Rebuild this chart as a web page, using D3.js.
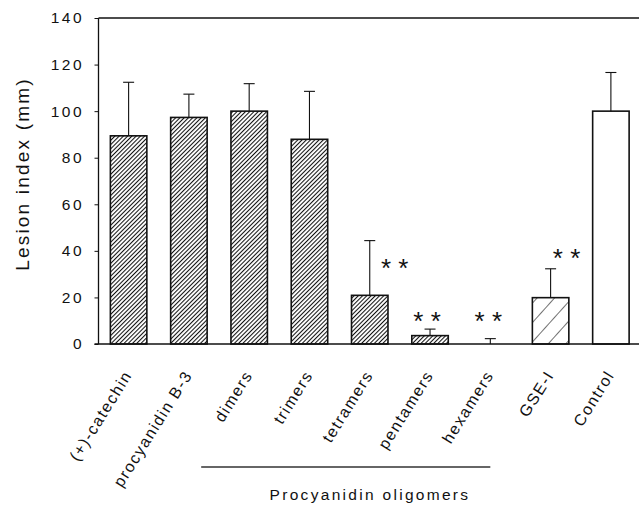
<!DOCTYPE html>
<html><head><meta charset="utf-8">
<script src="https://cdn.jsdelivr.net/npm/d3@7"></script>
<style>body{margin:0;background:#fff}svg{display:block}text{font-family:"Liberation Sans",Arial,sans-serif;fill:#111}</style>
</head><body><svg id="c" width="639" height="505"></svg>
<script>
const categories = ["(+)-catechin","procyanidin B-3","dimers","trimers","tetramers","pentamers","hexamers","GSE-I","Control"];
const values = [89.4, 97.3, 100, 87.9, 20.9, 3.6, 0, 19.9, 100];
const errors = [23.0, 10.0, 11.8, 20.6, 23.5, 2.8, 2.3, 12.4, 16.6];
const fills = ["dense","dense","dense","dense","dense","dense","dense","sparse","none"];
const significance = [
  {cat:"tetramers", y:35.2, dx:25},
  {cat:"pentamers", y:12.5, dx:-3},
  {cat:"hexamers", y:12.5, dx:-2},
  {cat:"GSE-I", y:39.6, dx:16}
];
const yTicks = [0,20,40,60,80,100,120,140];
const groupLabel = "Procyanidin oligomers";
const groupCats = ["dimers","hexamers"];

const svg = d3.select("#c");
const m = {l:98.5, t:18, b:344, r:641};
const x = d3.scaleBand().domain(categories).range([m.l, m.r]).paddingInner(0.395).paddingOuter(0.197);
const y = d3.scaleLinear().domain([0,140]).range([m.b, m.t]);

const defs = svg.append("defs");
const pd = defs.append("pattern").attr("id","dense").attr("patternUnits","userSpaceOnUse")
  .attr("width",3).attr("height",3).attr("patternTransform","rotate(45)");
pd.append("line").attr("x1",0.5).attr("y1",0).attr("x2",0.5).attr("y2",3).attr("stroke","#111").attr("stroke-width",1.1);
const ps = defs.append("pattern").attr("id","sparse").attr("patternUnits","userSpaceOnUse")
  .attr("width",13).attr("height",13).attr("patternTransform","rotate(42)");
ps.append("line").attr("x1",0).attr("y1",0).attr("x2",0).attr("y2",13).attr("stroke","#111").attr("stroke-width",1.2);

// bars
svg.selectAll("rect.bar").data(categories).join("rect").attr("class","bar")
  .attr("x", d=>x(d)).attr("width", x.bandwidth())
  .attr("y", (d,i)=>y(values[i])).attr("height",(d,i)=>y(0)-y(values[i]))
  .attr("fill",(d,i)=>fills[i]==="none"?"#fff":`url(#${fills[i]})`)
  .attr("stroke","#111").attr("stroke-width",(d,i)=>values[i]>0?1.6:0);

// error bars
const eg = svg.append("g").attr("stroke","#111").attr("stroke-width",1.1);
categories.forEach((c,i)=>{
  const cx = x(c)+x.bandwidth()/2;
  eg.append("line").attr("x1",cx).attr("x2",cx).attr("y1",y(values[i])).attr("y2",y(values[i]+errors[i]));
  eg.append("line").attr("x1",cx-5.5).attr("x2",cx+5.5).attr("y1",y(values[i]+errors[i])).attr("y2",y(values[i]+errors[i]));
});

// axes frame
const ax = svg.append("g").attr("transform",`translate(${m.l},0)`)
  .call(d3.axisLeft(y).tickValues(yTicks).tickSize(4).tickPadding(13));
ax.select(".domain").remove();
ax.selectAll("line").attr("stroke","#111");
ax.selectAll("text").attr("font-size",15.5).attr("letter-spacing",2.4).attr("fill","#111").attr("dx",2.4);
svg.append("line").attr("x1",m.l).attr("x2",m.l).attr("y1",m.t).attr("y2",m.b).attr("stroke","#111").attr("stroke-width",1.3);
svg.append("line").attr("x1",m.l-4).attr("x2",639).attr("y1",m.b).attr("y2",m.b).attr("stroke","#111").attr("stroke-width",1.3);
svg.append("line").attr("x1",m.l).attr("x2",639).attr("y1",m.t).attr("y2",m.t).attr("stroke","#111").attr("stroke-width",1.3);

// y title
svg.append("text").attr("transform",`translate(29,${(m.t+m.b)/2 - 7}) rotate(-90)`)
  .attr("text-anchor","middle").attr("font-size",19).attr("letter-spacing",2.2).text("Lesion index (mm)");

// x labels
svg.selectAll("text.xl").data(categories).join("text").attr("class","xl")
  .attr("transform",d=>`translate(${x(d)+x.bandwidth()/2+4},${m.b+31}) rotate(-58)`)
  .attr("text-anchor","end").attr("font-size",16).attr("letter-spacing",1.5).text(d=>d);

// significance
svg.selectAll("text.sig").data(significance).join("text").attr("class","sig")
  .attr("x",d=>x(d.cat)+x.bandwidth()/2+d.dx).attr("y",d=>y(d.y)+15)
  .attr("text-anchor","middle").attr("font-size",26).text("* *");

// group line & label
const gx1 = x(groupCats[0])+x.bandwidth()/2-48, gx2 = x(groupCats[1])+x.bandwidth()/2;
svg.append("line").attr("x1",gx1).attr("x2",gx2).attr("y1",467).attr("y2",467).attr("stroke","#333").attr("stroke-width",1.3);
svg.append("text").attr("x",370).attr("y",500).attr("text-anchor","middle").attr("font-size",15.5).attr("letter-spacing",2.3).text(groupLabel);
</script></body></html>
